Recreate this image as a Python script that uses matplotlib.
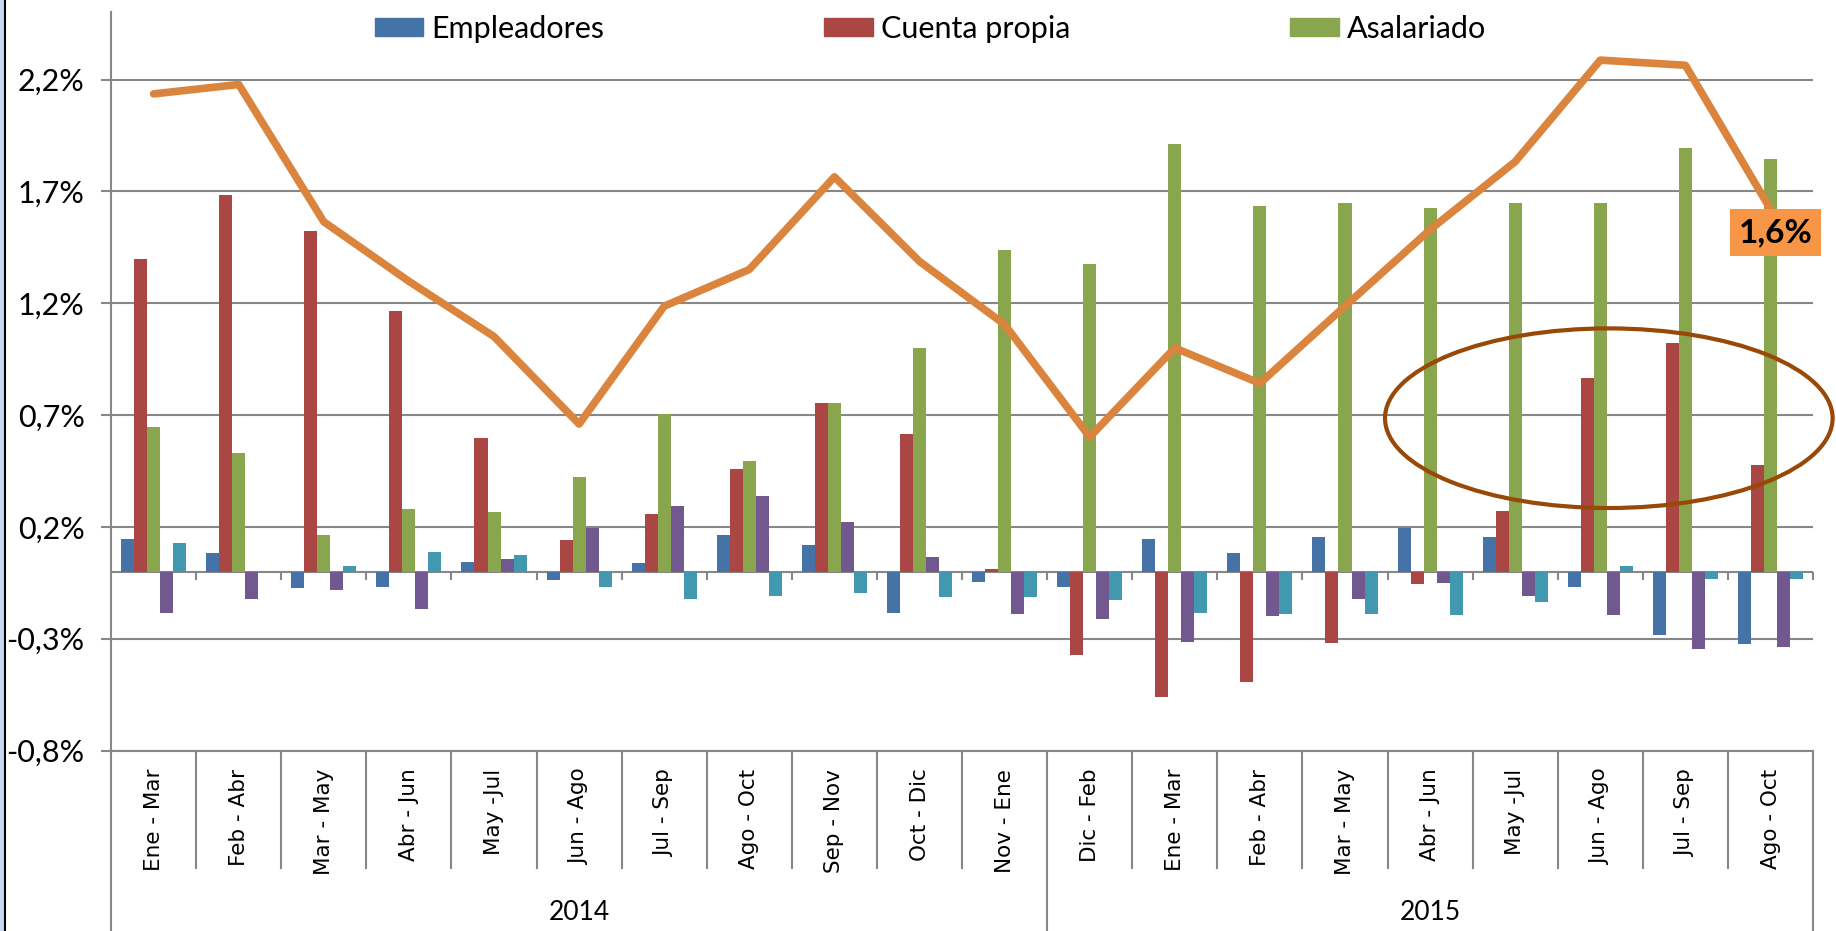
import numpy as np
import matplotlib
matplotlib.use('Agg')
import matplotlib.pyplot as plt
from matplotlib.patches import Ellipse, Rectangle, Patch
from matplotlib.lines import Line2D

plt.rcParams['font.family'] = ['Lato', 'DejaVu Sans']

# categories (rolling quarters) and year groups
cats = ['Ene - Mar', 'Feb - Abr', 'Mar - May', 'Abr - Jun', 'May -Jul', 'Jun - Ago',
        'Jul - Sep', 'Ago - Oct', 'Sep - Nov', 'Oct - Dic', 'Nov - Ene',
        'Dic - Feb', 'Ene - Mar', 'Feb - Abr', 'Mar - May', 'Abr - Jun', 'May -Jul',
        'Jun - Ago', 'Jul - Sep', 'Ago - Oct']
years = ['2014', '2015']
year_counts = [11, 9]

# series values (%)
empleadores = [0.145, 0.082, -0.073, -0.067, 0.042, -0.036, 0.04, 0.162, 0.12, -0.187,
               -0.045, -0.067, 0.144, 0.082, 0.153, 0.193, 0.153, -0.067, -0.285, -0.325]
cuenta_propia = [1.398, 1.684, 1.525, 1.167, 0.598, 0.14, 0.258, 0.46, 0.753, 0.616,
                 0.013, -0.373, -0.56, -0.495, -0.318, -0.055, 0.269, 0.865, 1.024, 0.478]
asalariado = [0.647, 0.531, 0.162, 0.278, 0.267, 0.424, 0.707, 0.496, 0.756, 0.998,
              1.438, 1.375, 1.911, 1.636, 1.649, 1.624, 1.649, 1.649, 1.895, 1.844]
serie4 = [-0.185, -0.122, -0.084, -0.167, 0.055, 0.193, 0.293, 0.338, 0.224, 0.065,
          -0.191, -0.213, -0.313, -0.198, -0.122, -0.051, -0.111, -0.193, -0.344, -0.336]
serie5 = [0.129, 0.0, 0.027, 0.087, 0.076, -0.067, -0.122, -0.111, -0.095, -0.113,
          -0.115, -0.125, -0.185, -0.191, -0.191, -0.196, -0.135, 0.024, -0.031, -0.035]
total = [2.136, 2.178, 1.564, 1.298, 1.051, 0.66, 1.187, 1.351, 1.765, 1.387,
         1.105, 0.602, 1.0, 0.842, 1.187, 1.529, 1.833, 2.287, 2.264, 1.62]

yticks = [-0.8, -0.3, 0.2, 0.7, 1.2, 1.7, 2.2]
ytick_labels = ['-0,8%', '-0,3%', '0,2%', '0,7%', '1,2%', '1,7%', '2,2%']

colors = ['#4572A7', '#AA4643', '#89A54E', '#71588F', '#4198AF']
grid_c = '#878787'

fig = plt.figure(figsize=(18.36, 9.31), dpi=100)
ax = fig.add_axes([0.0605, 0.1938, 0.927, 0.7928])

x = np.arange(len(cats))
bw = 0.153
series = [empleadores, cuenta_propia, asalariado, serie4, serie5]
for i, s in enumerate(series):
    ax.bar(x + (i - 2) * bw, s, width=bw, color=colors[i], zorder=2)

ax.plot(x, total, color='#DB843D', lw=5.5, solid_capstyle='round', solid_joinstyle='round', zorder=4)

ax.set_xlim(-0.5, 19.5)
ax.set_ylim(-0.8, 2.5)
ax.set_yticks(yticks)
ax.set_yticklabels(ytick_labels, fontsize=22)
ax.yaxis.grid(True, color=grid_c, lw=1.5, zorder=0)
ax.set_axisbelow(True)
ax.tick_params(axis='y', direction='out', length=7, width=1.5, color=grid_c, pad=12)

ax.set_xticks(x)
ax.set_xticklabels(cats, rotation=90, fontsize=15.5, family='DejaVu Sans')
ax.tick_params(axis='x', length=0, pad=13)

for sp in ['top', 'right']:
    ax.spines[sp].set_visible(False)
ax.spines['left'].set_color(grid_c)
ax.spines['left'].set_linewidth(1.5)
ax.spines['bottom'].set_color(grid_c)
ax.spines['bottom'].set_linewidth(1.5)

# zero line with small boundary ticks
ax.axhline(0, color=grid_c, lw=1.5, zorder=1)
bounds = np.arange(-0.5, 20, 1.0)
ax.vlines(bounds[1:], 0, -0.036, color=grid_c, lw=1.5, zorder=1, clip_on=False)

# category / year separators below the plot
tr = ax.get_xaxis_transform()
year_edges = [-0.5, 10.5, 19.5]
for b in bounds:
    y0 = -0.245 if b in year_edges else -0.159
    ax.plot([b, b], [0, y0], transform=tr, color=grid_c, lw=1.5, clip_on=False)

start = -0.5
for yr, n in zip(years, year_counts):
    ax.text(start + n / 2, -0.22, yr, transform=tr, ha='center', va='center', fontsize=19)
    start += n

# highlight ellipse and last value label
ax.add_patch(Ellipse((17.1, 0.686), width=5.26, height=0.803, fill=False,
                     edgecolor='#984807', lw=3, zorder=5, clip_on=False))
ax.text(19.06, 1.516, '1,6%', ha='center', va='center', fontsize=24, fontweight='bold',
        zorder=6, clip_on=False,
        bbox=dict(boxstyle='square,pad=0.27', facecolor='#F79646', edgecolor='none'))

# legend (first three series only)
handles = [Patch(color=colors[i]) for i in range(3)]
fig.legend(handles, ['Empleadores', 'Cuenta propia', 'Asalariado'], ncol=3,
           loc='center left', bbox_to_anchor=(0.204, 0.969), frameon=False, fontsize=22,
           handlelength=1.6, handleheight=0.5, handletextpad=0.25, columnspacing=7.2,
           borderpad=0, borderaxespad=0)

# left frame edge
fig.patches.append(Rectangle((0, 0), 4 / 1836, 1, transform=fig.transFigure,
                             color='#C6D9F1', zorder=0))
fig.lines.append(Line2D([5 / 1836, 5 / 1836], [0, 1], transform=fig.transFigure,
                        color='black', lw=1.5))

fig.savefig('out.png', dpi=100)
